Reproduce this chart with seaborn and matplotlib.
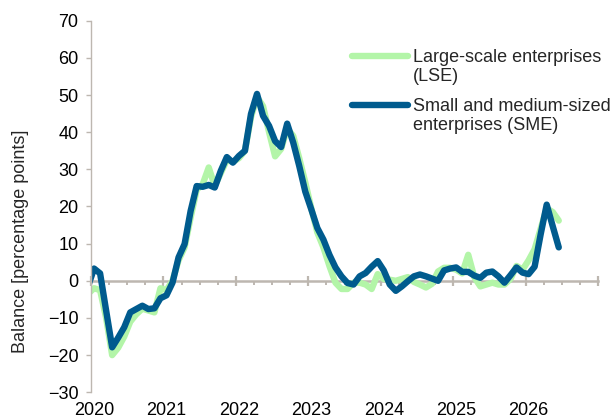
import numpy as np
import pandas as pd
import matplotlib
matplotlib.use("Agg")
import matplotlib.pyplot as plt
from matplotlib.ticker import MultipleLocator, FixedLocator
from matplotlib.legend_handler import HandlerLine2D
import seaborn as sns

sns.set_theme(style="white")
plt.rcParams['font.family'] = ['Liberation Sans', 'DejaVu Sans']
plt.rcParams['font.size'] = 13

# monthly survey balances, Dec 2019 .. Jun 2026
months = pd.date_range("2019-12-01", periods=79, freq="MS")

lse = [-3.5, -2.0, -2.5, -10.0, -20.0, -18.0, -15.0, -11.0, -9.0, -7.5, -8.0, -8.5, -2.0,
       -2.5, 0.0, 5.5, 9.0, 17.0, 24.5, 26.0, 30.5, 25.5, 29.0, 32.5, 32.0,
       33.0, 35.0, 44.0, 49.5, 47.0, 40.0, 33.5, 35.5, 41.0, 39.0, 33.0, 26.5,
       19.5, 13.0, 9.0, 4.0, -0.5, -2.2, -2.2, -0.5, -0.5, -1.0, -2.2, 1.8,
       0.5, 0.3, 0.0, 0.5, 1.0, -0.3, -1.0, -1.8, -0.8, 2.5, 3.5, 3.5,
       3.0, 2.0, 7.0, 1.0, -1.5, -1.0, -0.5, -1.0, -1.0, 0.5, 4.0, 3.0,
       5.5, 8.5, 14.0, 19.5, 18.5, 16.2]

sme = [-1.5, 3.3, 2.0, -8.0, -17.9, -15.3, -12.5, -8.5, -7.6, -6.7, -7.6, -7.4, -4.7,
       -3.9, -0.5, 6.3, 9.9, 18.8, 25.5, 25.3, 25.8, 25.1, 29.6, 33.3, 31.8,
       33.6, 35.0, 44.9, 50.3, 44.4, 41.7, 37.6, 36.0, 42.3, 37.2, 30.9, 24.0,
       19.2, 14.2, 11.1, 7.0, 3.6, 1.2, -0.6, -1.0, 1.2, 2.1, 3.8, 5.3,
       2.8, -1.0, -2.7, -1.5, -0.1, 1.2, 1.7, 1.2, 0.6, 0.0, 2.8, 3.3,
       3.6, 2.4, 2.4, 1.4, 0.8, 2.2, 2.5, 1.2, -0.5, 1.5, 3.6, 2.2,
       1.8, 3.8, 12.5, 20.5, 14.7, 9.0]

labels = ["Large-scale enterprises\n(LSE)", "Small and medium-sized\nenterprises (SME)"]
colors = ["#b3f5a8", "#005b8e"]
years = list(range(2020, 2027))

# decimal year at mid-month
t = months.year + (months.month - 0.5) / 12
df = pd.concat([
    pd.DataFrame({"t": t, "value": lse, "series": labels[0]}),
    pd.DataFrame({"t": t, "value": sme, "series": labels[1]}),
])


class FirstLineHandler(HandlerLine2D):
    # put the legend line next to the first line of a two-line label
    def create_artists(self, legend, orig_handle, xdescent, ydescent,
                       width, height, fontsize, trans):
        artists = super().create_artists(legend, orig_handle, xdescent, ydescent,
                                          width, height, fontsize, trans)
        for a in artists:
            a.set_ydata(np.asarray(a.get_ydata()) + 0.6 * fontsize)
        return artists


fig = plt.figure(figsize=(6.11, 4.2), dpi=100)
ax = fig.add_axes([0.149, 0.066, 0.8297, 0.8847])

sns.lineplot(data=df, x="t", y="value", hue="series", hue_order=labels,
             palette=dict(zip(labels, colors)), linewidth=4.6, ax=ax,
             solid_capstyle="round", solid_joinstyle="round")

ax.set_xlim(2020, 2027)
ax.set_ylim(-30, 70)
ax.yaxis.set_major_locator(MultipleLocator(10))

axis_grey = "#bdb7b0"
for s in ["top", "right", "bottom"]:
    ax.spines[s].set_visible(False)
ax.spines["left"].set_color(axis_grey)
ax.spines["left"].set_linewidth(1.0)
ax.tick_params(axis="y", which="major", left=True, length=3.5, width=1,
               color=axis_grey, pad=5.5, labelsize=13, labelcolor="black")

# year labels along the bottom
ax.xaxis.set_major_locator(FixedLocator([y + 0.5 / 12 for y in years]))
ax.set_xticklabels([str(y) for y in years])
ax.tick_params(axis="x", which="major", bottom=True, length=0, pad=7,
               labelsize=13, labelcolor="black")

# category axis line drawn at zero
zero_pos = (0 - ax.get_ylim()[0]) / (ax.get_ylim()[1] - ax.get_ylim()[0])
sec = ax.secondary_xaxis(zero_pos)
sec.spines["bottom"].set_color(axis_grey)
sec.spines["bottom"].set_linewidth(1.8)
sec.xaxis.set_major_locator(MultipleLocator(1))
sec.xaxis.set_minor_locator(MultipleLocator(0.25))
sec.tick_params(axis="x", which="major", direction="inout", length=7, width=1.6,
                color=axis_grey, labelbottom=False)
sec.tick_params(axis="x", which="minor", direction="out", length=3, width=1.4,
                color=axis_grey)

ax.set_xlabel("")
ax.set_ylabel("Balance [percentage points]", fontsize=13)
ax.yaxis.set_label_coords(-0.123, 0.406)

handles, _ = ax.get_legend_handles_labels()
leg = ax.legend(handles, labels, loc="upper left", bbox_to_anchor=(0.576, 0.8845),
                bbox_transform=fig.transFigure, frameon=False, borderpad=0,
                borderaxespad=0, handlelength=3.1, handletextpad=0.28,
                labelspacing=0.7, fontsize=13,
                handler_map={h: FirstLineHandler() for h in handles})
for line in leg.get_lines():
    line.set_linewidth(4.6)
    line.set_solid_capstyle("round")

fig.savefig("out.png", dpi=100)
